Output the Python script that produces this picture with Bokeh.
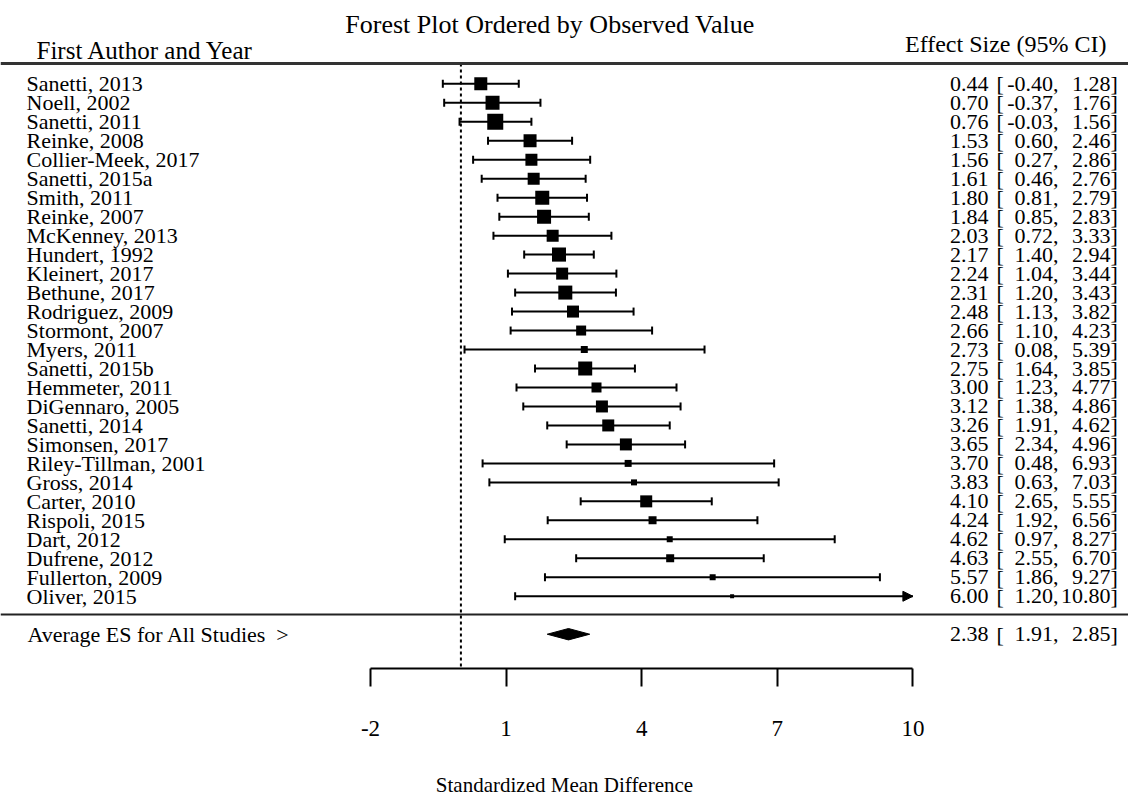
from bokeh.plotting import figure
from bokeh.models import (Range1d, LinearAxis, FixedTicker, Whisker, TeeHead,
                          NormalHead, ColumnDataSource, Span, Label)
from bokeh.core.properties import value
from bokeh.embed import file_html
from bokeh.resources import INLINE

# ---------------- data ----------------
authors = ["Sanetti, 2013", "Noell, 2002", "Sanetti, 2011", "Reinke, 2008",
           "Collier-Meek, 2017", "Sanetti, 2015a", "Smith, 2011", "Reinke, 2007",
           "McKenney, 2013", "Hundert, 1992", "Kleinert, 2017", "Bethune, 2017",
           "Rodriguez, 2009", "Stormont, 2007", "Myers, 2011", "Sanetti, 2015b",
           "Hemmeter, 2011", "DiGennaro, 2005", "Sanetti, 2014", "Simonsen, 2017",
           "Riley-Tillman, 2001", "Gross, 2014", "Carter, 2010", "Rispoli, 2015",
           "Dart, 2012", "Dufrene, 2012", "Fullerton, 2009", "Oliver, 2015"]
es = [0.44, 0.70, 0.76, 1.53, 1.56, 1.61, 1.80, 1.84, 2.03, 2.17, 2.24, 2.31,
      2.48, 2.66, 2.73, 2.75, 3.00, 3.12, 3.26, 3.65, 3.70, 3.83, 4.10, 4.24,
      4.62, 4.63, 5.57, 6.00]
ci_low = [-0.40, -0.37, -0.03, 0.60, 0.27, 0.46, 0.81, 0.85, 0.72, 1.40, 1.04,
          1.20, 1.13, 1.10, 0.08, 1.64, 1.23, 1.38, 1.91, 2.34, 0.48, 0.63,
          2.65, 1.92, 0.97, 2.55, 1.86, 1.20]
ci_high = [1.28, 1.76, 1.56, 2.46, 2.86, 2.76, 2.79, 2.83, 3.33, 2.94, 3.44,
           3.43, 3.82, 4.23, 5.39, 3.85, 4.77, 4.86, 4.62, 4.96, 6.93, 7.03,
           5.55, 6.56, 8.27, 6.70, 9.27, 10.80]
# relative study weights (shown as square marker size)
weights = [13, 14, 16, 13, 12, 12, 14, 14, 12, 14, 12, 14, 12, 10, 7, 14, 10,
           12, 12, 12, 7, 6, 12, 8, 6, 8, 6, 4]
pooled = dict(es=2.38, low=1.91, high=2.85)
x_ticks = [-2, 1, 4, 7, 10]
x_tick_labels = ["-2", "1", "4", "7", "10"]
null_effect = 0

title_text = "Forest Plot Ordered by Observed Value"
left_header = "First Author and Year"
right_header = "Effect Size (95% CI)"
pooled_label = "Average ES for All Studies\u00a0\u00a0>"
x_label = "Standardized Mean Difference"

# ---------------- layout constants ----------------
FONT = "Liberation Serif"
n = len(authors)
rows = list(range(n))
sep_row = n - 0.04
avg_row = n + 1
top_line = -1.07
axis_min, axis_max = x_ticks[0], x_ticks[-1]
Y_TOP, Y_BOTTOM = -4.389, 30.806

X_LABEL = -9.61
X_ES = 11.673
X_LB = 11.85
X_LOW = 13.221
X_HIGH = 14.372
X_RB = 14.372

p = figure(width=1128, height=799, output_backend="svg", toolbar_location=None,
           x_range=Range1d(-10.186, 14.770), y_range=Range1d(Y_BOTTOM, Y_TOP),
           x_axis_type=None, y_axis_type=None,
           min_border_left=0, min_border_right=0, min_border_top=0,
           min_border_bottom=131, outline_line_color=None)
p.background_fill_color = "white"
p.border_fill_color = "white"

ax = LinearAxis(ticker=FixedTicker(ticks=x_ticks), bounds=(axis_min, axis_max),
                axis_label=x_label,
                major_label_overrides={t: s for t, s in zip(x_ticks, x_tick_labels)},
                major_tick_in=0, major_tick_out=18,
                minor_tick_line_color=None, minor_tick_out=0, minor_tick_in=0,
                axis_line_width=2, major_tick_line_width=2,
                axis_line_color="black", major_tick_line_color="black",
                major_label_text_font=FONT, major_label_text_font_size="23px",
                major_label_text_color="black", major_label_standoff=34,
                axis_label_text_font=FONT, axis_label_text_font_size="21px",
                axis_label_text_font_style="normal", axis_label_text_color="black",
                axis_label_standoff=34)
p.add_layout(ax, "below")

# header / separator lines
p.add_layout(Span(location=top_line, dimension="width", line_color="#333333", line_width=3))
p.add_layout(Span(location=sep_row, dimension="width", line_color="#222222", line_width=2))

# null-effect dashed line
p.segment(x0=[null_effect], y0=[top_line], x1=[null_effect], y1=[Y_BOTTOM],
          line_color="black", line_width=2, line_dash="3 3")

# split rows: CI inside axis, CI beyond axis (arrow)
inside = [i for i in rows if ci_high[i] <= axis_max]
beyond = [i for i in rows if ci_high[i] > axis_max]

src_in = ColumnDataSource(dict(y=[rows[i] for i in inside],
                               lo=[ci_low[i] for i in inside],
                               hi=[ci_high[i] for i in inside]))
src_out = ColumnDataSource(dict(y=[rows[i] for i in beyond],
                                lo=[ci_low[i] for i in beyond],
                                hi=[min(ci_high[i], axis_max) for i in beyond]))

p.add_layout(Whisker(source=src_in, base="y", lower="lo", upper="hi",
                     dimension="width", line_width=2, line_color="black",
                     lower_head=TeeHead(size=8, line_width=2, line_color="black"),
                     upper_head=TeeHead(size=8, line_width=2, line_color="black")))
p.add_layout(Whisker(source=src_out, base="y", lower="lo", upper="hi",
                     dimension="width", line_width=2, line_color="black",
                     lower_head=TeeHead(size=8, line_width=2, line_color="black"),
                     upper_head=NormalHead(size=10, line_width=1, line_color="black",
                                           fill_color="black")))

src = ColumnDataSource(dict(y=rows, es=es, w=weights, author=authors,
                            es_t=[f"{v:.2f}" for v in es],
                            lo_t=[f"{v:.2f}," for v in ci_low],
                            hi_t=[f"{v:.2f}" for v in ci_high]))
p.scatter("es", "y", size="w", marker="square", fill_color="black",
          line_color=None, source=src)

# pooled diamond
p.patch(x=[pooled["low"], pooled["es"], pooled["high"], pooled["es"]],
        y=[avg_row, avg_row - 0.3, avg_row, avg_row + 0.3],
        fill_color="black", line_color="black", line_width=1)

TXT = dict(text_font=value(FONT), text_font_size="22px", text_color="black",
           text_baseline="middle")
p.text(x=X_LABEL, y="y", text="author", text_align="left", source=src, **TXT)
p.text(x=X_ES, y="y", text="es_t", text_align="right", source=src, **TXT)
p.text(x=X_LB, y="y", text=value("["), text_align="left", source=src, **TXT)
p.text(x=X_LOW, y="y", text="lo_t", text_align="right", source=src, **TXT)
p.text(x=X_HIGH, y="y", text="hi_t", text_align="right", source=src, **TXT)
p.text(x=X_RB, y="y", text=value("]"), text_align="left", source=src, **TXT)

# pooled row texts
p.text(x=[X_LABEL + 0.02], y=[avg_row], text=[pooled_label], text_align="left", **TXT)
p.text(x=[X_ES], y=[avg_row], text=[f"{pooled['es']:.2f}"], text_align="right", **TXT)
p.text(x=[X_LB], y=[avg_row], text=["["], text_align="left", **TXT)
p.text(x=[X_LOW], y=[avg_row], text=[f"{pooled['low']:.2f},"], text_align="right", **TXT)
p.text(x=[X_HIGH], y=[avg_row], text=[f"{pooled['high']:.2f}"], text_align="right", **TXT)
p.text(x=[X_RB], y=[avg_row], text=["]"], text_align="left", **TXT)

# headers
p.add_layout(Label(x=1.971, y=-3.12, text=title_text, text_font=FONT,
                   text_font_size="26px", text_align="center", text_baseline="middle",
                   text_color="black"))
p.add_layout(Label(x=-9.389, y=-1.75, text=left_header, text_font=FONT,
                   text_font_size="25px", text_align="left", text_baseline="middle",
                   text_color="black"))
p.add_layout(Label(x=14.283, y=-2.09, text=right_header, text_font=FONT,
                   text_font_size="24px", text_align="right", text_baseline="middle",
                   text_color="black"))

open("out.html", "w").write(file_html(p, INLINE))
